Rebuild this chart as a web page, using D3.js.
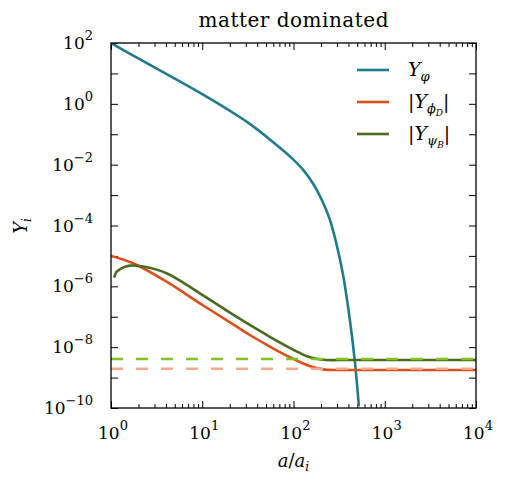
<!DOCTYPE html>
<html>
<head>
<meta charset="UTF-8">
<title>matter dominated</title>
<script src="https://d3js.org/d3.v7.min.js"></script>
<style>
  body { margin: 0; background: #fff; }
  .axis path { display: none; }
  .axis line { stroke: #000; stroke-width: 1; }
</style>
</head>
<body>
<div id="chart"></div>
<script>
// values
const phiA = [1, 1.97, 4.61, 10.67, 24.7, 33.2, 55.0, 90.8, 127, 163, 202, 249, 294, 348, 412, 468, 521];
const phiY = [100, 31.6, 7.76, 1.86, 0.398, 0.219, 0.0676, 0.0191, 0.0069, 0.00244, 7.45e-4, 1.64e-4, 2.66e-5, 2.55e-6, 9.1e-8, 3.88e-9, 1.13e-10];

const phiDA = [1, 1.75, 4.06, 9.42, 21.8, 33.2, 55.0, 90.8, 117, 150, 210, 316, 1000, 10000];
const phiDY = [1e-5, 5.73e-6, 1.42e-6, 2.77e-7, 5.62e-8, 2.51e-8, 1.05e-8, 4.68e-9, 3.24e-9, 2.4e-9, 1.86e-9, 1.78e-9, 1.78e-9, 1.78e-9];

const psiBA = [1.08, 1.15, 1.25, 1.41, 1.61, 2.25, 4.06, 9.42, 21.8, 33.2, 55.0, 90.8, 117, 138, 178, 229, 398, 1000, 10000];
const psiBY = [1.93e-6, 3.02e-6, 3.63e-6, 4.37e-6, 4.79e-6, 4.47e-6, 2.69e-6, 5.89e-7, 1.17e-7, 5.37e-8, 2.19e-8, 9.55e-9, 6.46e-9, 5.13e-9, 4.17e-9, 3.8e-9, 3.8e-9, 3.8e-9, 3.8e-9];

const refA = [1, 10000];
const refPsiY = [4.1e-9, 4.1e-9];
const refPhiY = [1.96e-9, 1.96e-9];

const xTicks = [1, 10, 100, 1000, 10000];
const yTicks = d3.range(-10, 3).map(e => Math.pow(10, e));
const yLabelExps = [2, 0, -2, -4, -6, -8, -10];

const width = 507, height = 491;
const margin = {top: 43, right: 31, bottom: 83, left: 111};
const w = width - margin.left - margin.right;
const h = height - margin.top - margin.bottom;
const serif = "'DejaVu Serif', serif";

const svg = d3.select("#chart").append("svg")
  .attr("width", width).attr("height", height)
  .attr("font-family", serif);

const x = d3.scaleLog().domain([1, 1e4]).range([0, w]);
const y = d3.scaleLog().domain([1e-10, 1e2]).range([h, 0]);

const g = svg.append("g").attr("transform", `translate(${margin.left},${margin.top})`);

g.append("clipPath").attr("id", "clip")
  .append("rect").attr("width", w).attr("height", h);

// ticks (inward)
const minorX = [];
for (let d = 1; d < 1e4; d *= 10) for (let k = 2; k < 10; k++) minorX.push(d * k);

g.append("g").attr("class", "axis").attr("transform", `translate(0,${h})`)
  .call(d3.axisBottom(x).tickValues(xTicks).tickSize(-7).tickFormat(""));
g.append("g").attr("class", "axis").attr("transform", `translate(0,${h})`)
  .call(d3.axisBottom(x).tickValues(minorX).tickSize(-4).tickFormat(""));
g.append("g").attr("class", "axis")
  .call(d3.axisTop(x).tickValues(xTicks).tickSize(-7).tickFormat(""));
g.append("g").attr("class", "axis")
  .call(d3.axisTop(x).tickValues(minorX).tickSize(-4).tickFormat(""));
g.append("g").attr("class", "axis")
  .call(d3.axisLeft(y).tickValues(yTicks).tickSize(-7).tickFormat(""));
g.append("g").attr("class", "axis").attr("transform", `translate(${w},0)`)
  .call(d3.axisRight(y).tickValues(yTicks).tickSize(-7).tickFormat(""));

// lines
const line = d3.line().x(d => x(d[0])).y(d => y(d[1])).curve(d3.curveCatmullRom.alpha(0.5));
const plot = g.append("g").attr("clip-path", "url(#clip)");

function addLine(as, ys, color, dash) {
  plot.append("path")
    .datum(as.map((a, i) => [a, ys[i]]))
    .attr("fill", "none")
    .attr("stroke", color)
    .attr("stroke-width", 2.6)
    .attr("stroke-dasharray", dash || null)
    .attr("d", line);
}
addLine(phiA, phiY, "#217a8c");
addLine(phiDA, phiDY, "#d9501a");
addLine(psiBA, psiBY, "#4a6b1f");
addLine(refA, refPsiY, "#80c41f", "12,13");
addLine(refA, refPhiY, "#f5a98c", "12,13");

// frame
g.append("rect").attr("width", w).attr("height", h)
  .attr("fill", "none").attr("stroke", "#000").attr("stroke-width", 1.3);

// tick labels
function power(sel, exp) {
  sel.append("tspan").text("10");
  sel.append("tspan").attr("dy", -9).attr("font-size", 13)
    .text(exp < 0 ? "\u2212" + (-exp) : exp);
}
xTicks.forEach(v => {
  const t = g.append("text").attr("x", x(v) + 2).attr("y", h + 31)
    .attr("text-anchor", "middle").attr("font-size", 17);
  power(t, Math.round(Math.log10(v)));
});
yLabelExps.forEach(e => {
  const t = g.append("text").attr("x", -18).attr("y", y(Math.pow(10, e)) + 6)
    .attr("text-anchor", "end").attr("font-size", 17);
  power(t, e);
});

// title & axis labels
svg.append("text").attr("x", margin.left + w / 2).attr("y", 27)
  .attr("text-anchor", "middle").attr("font-size", 20).attr("textLength", 190)
  .text("matter dominated");

const xl = svg.append("text").attr("x", margin.left + w / 2).attr("y", 467)
  .attr("text-anchor", "middle").attr("font-size", 18).attr("font-style", "italic");
xl.append("tspan").text("a");
xl.append("tspan").attr("font-style", "normal").text("/");
xl.append("tspan").text("a");
xl.append("tspan").attr("font-size", 12).attr("dy", 4).text("i");

const yl = svg.append("text").attr("transform", "translate(27,226) rotate(-90)")
  .attr("text-anchor", "middle").attr("font-size", 18).attr("font-style", "italic");
yl.append("tspan").text("Y");
yl.append("tspan").attr("font-size", 12).attr("dy", 4).text("i");

// legend
const legend = [
  {color: "#217a8c", parts: [["Y", 19, 0, "italic"], ["\u03c6", 13, 5, "italic"]]},
  {color: "#d9501a", parts: [["|", 19, 0, "normal"], ["Y", 19, 0, "italic"], ["\u03d5", 13, 5, "italic"], ["D", 9, 3, "italic"], ["|", 19, -8, "normal"]]},
  {color: "#4a6b1f", parts: [["|", 19, 0, "normal"], ["Y", 19, 0, "italic"], ["\u03c8", 13, 5, "italic"], ["B", 9, 3, "italic"], ["|", 19, -8, "normal"]]}
];
legend.forEach((d, i) => {
  const ly = 70 + i * 32;
  svg.append("line").attr("x1", 357).attr("x2", 389).attr("y1", ly).attr("y2", ly)
    .attr("stroke", d.color).attr("stroke-width", 2.6);
  const t = svg.append("text").attr("x", 408).attr("y", ly + 6);
  d.parts.forEach(p => {
    t.append("tspan").attr("font-size", p[1]).attr("dy", p[2]).attr("font-style", p[3]).text(p[0]);
  });
});
</script>
</body>
</html>
